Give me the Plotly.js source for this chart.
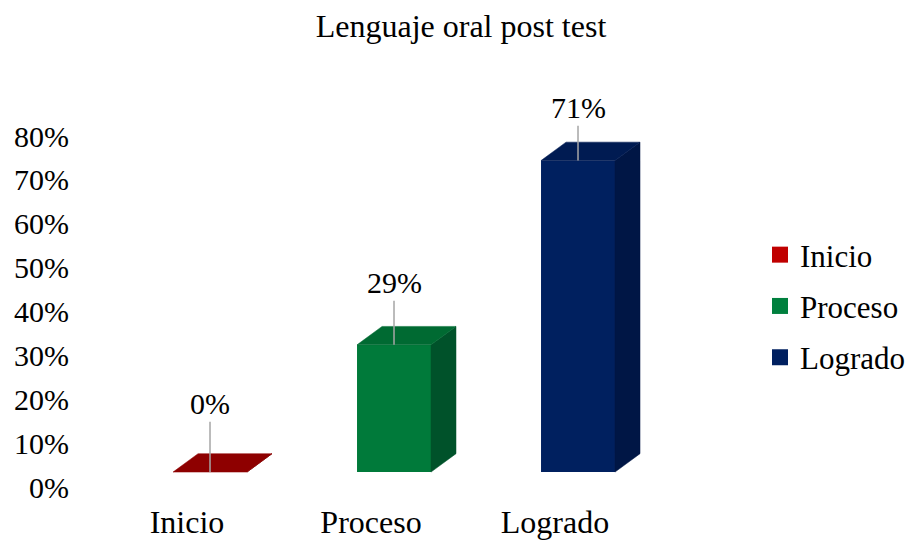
<!DOCTYPE html>
<html>
<head>
<meta charset="utf-8">
<script src="https://cdn.plot.ly/plotly-3.0.1.min.js"></script>
<style>html,body{margin:0;padding:0;background:#fff}#chart{width:907px;height:541px}</style>
</head>
<body>
<div id="chart"></div>
<script>
// ---- data ----
const categories = ['Inicio', 'Proceso', 'Logrado'];
const values = [0, 0.29, 0.71];
const yTickVals = [0, 0.1, 0.2, 0.3, 0.4, 0.5, 0.6, 0.7, 0.8];
const chartTitle = 'Lenguaje oral post test';

// ---- style ----
const legendColors = ['#C00000', '#00803E', '#002060'];
const frontColors = ['#8E0000', '#007A3A', '#00205F'];
const topColors   = ['#8E0000', '#006A32', '#001B52'];
const sideColors  = ['#700000', '#00522A', '#001645'];
const FONT = '"Liberation Serif", "Times New Roman", serif';
const BASE = 0.034;   // 3D floor offset of the front faces
const W = 0.402;      // bar width (category units)
const DX = 0.136;     // depth, x
const DY = 0.042;     // depth, y
const LABEL_SHIFT = -0.125;

const traces = [];
const xs = categories.map((c, i) => i);

// front faces
traces.push({
  type: 'bar', x: xs, y: values, base: BASE, width: W,
  marker: {color: frontColors, line: {width: 0}},
  showlegend: false, hoverinfo: 'skip'
});

// top and side faces
values.forEach((v, i) => {
  const x0 = i - W / 2, x1 = i + W / 2;
  const yb = BASE, yt = BASE + v;
  traces.push({
    type: 'scatter', mode: 'lines', fill: 'toself',
    x: [x1, x1, x1 + DX, x1 + DX, x1],
    y: [yb, yt, yt + DY, yb + DY, yb],
    fillcolor: sideColors[i], line: {color: sideColors[i], width: 0.5},
    showlegend: false, hoverinfo: 'skip'
  });
  traces.push({
    type: 'scatter', mode: 'lines', fill: 'toself',
    x: [x0, x1, x1 + DX, x0 + DX, x0],
    y: [yt, yt, yt + DY, yt + DY, yt],
    fillcolor: topColors[i], line: {color: topColors[i], width: 0.5},
    showlegend: false, hoverinfo: 'skip'
  });
});

// legend entries
categories.forEach((c, i) => {
  traces.push({
    type: 'scatter', mode: 'markers', x: [null], y: [null], name: c,
    legendgroup: c,
    marker: {symbol: 'square', size: 16, color: legendColors[i]}
  });
});

// data labels with leader lines
const annotations = values.map((v, i) => ({
  x: i, y: BASE + v, xref: 'x', yref: 'y',
  ax: i, ay: 0.19 + 0.95 * v, axref: 'x', ayref: 'y',
  text: Math.round(v * 100) + '%',
  showarrow: true, arrowhead: 0, arrowwidth: 1.5, arrowcolor: '#A6A6A6',
  font: {family: FONT, size: 30, color: '#000'}
}));

const layout = {
  width: 907, height: 541,
  paper_bgcolor: '#fff', plot_bgcolor: '#fff',
  margin: {l: 70, r: 187, t: 60, b: 41},
  font: {family: FONT, color: '#000'},
  title: {
    text: chartTitle, font: {family: FONT, size: 32, color: '#000'},
    x: 461 / 907, xanchor: 'center', xref: 'container',
    y: 1 - 26 / 541, yanchor: 'middle', yref: 'container'
  },
  xaxis: {
    range: [-0.7609, 2.7717], showgrid: false, zeroline: false, showline: false,
    tickvals: xs.map(i => i + LABEL_SHIFT), ticktext: categories,
    ticks: '', tickfont: {family: FONT, size: 32, color: '#000'}
  },
  yaxis: {
    range: [-0.0296, 0.9732], showgrid: false, zeroline: false, showline: false,
    tickvals: yTickVals, tickformat: '.0%', ticks: '',
    tickfont: {family: FONT, size: 30, color: '#000'}
  },
  showlegend: true,
  legend: {
    xref: 'container', yref: 'container',
    x: 760 / 907, xanchor: 'left', y: 1 - 306 / 541, yanchor: 'middle',
    font: {family: FONT, size: 31, color: '#000'},
    tracegroupgap: 8, bgcolor: 'rgba(0,0,0,0)'
  },
  annotations: annotations
};

Plotly.newPlot('chart', traces, layout, {staticPlot: true, displayModeBar: false});
</script>
</body>
</html>
